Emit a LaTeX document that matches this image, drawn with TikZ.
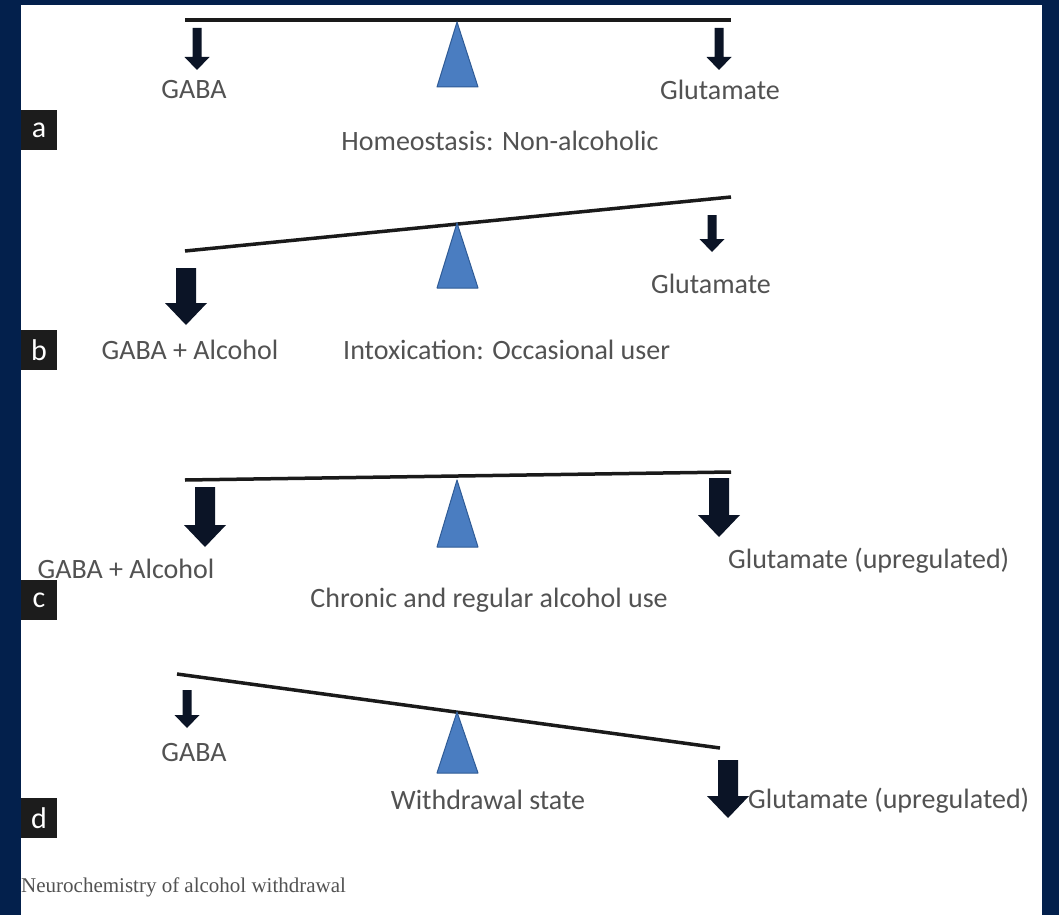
\documentclass[tikz,border=0pt]{standalone}
\usepackage{fontspec}
\setmainfont{Carlito}
\newfontfamily\capfont{Liberation Serif}
\usetikzlibrary{positioning}
\definecolor{navyFrame}{HTML}{03204C}
\definecolor{txtGray}{HTML}{525252}
\definecolor{arrowInk}{HTML}{0B1426}
\definecolor{beamInk}{HTML}{1A1A1A}
\definecolor{fulcrumBlue}{HTML}{4A7DC1}
\definecolor{fulcrumEdge}{HTML}{2F5B96}
\definecolor{tagBlack}{HTML}{1C1C1C}

\begin{document}
\begin{tikzpicture}[x=1pt,y=-1pt,line join=round,
    beam/.style={draw=beamInk,line width=3.5pt},
    fulcrum/.style={fill=fulcrumBlue,draw=fulcrumEdge,line width=1pt},
    lbl/.style={text=txtGray,font=\fontsize{28}{30}\selectfont,inner sep=0pt},
    tag/.style={fill=tagBlack,text=white,font=\fontsize{30}{32}\selectfont,
                minimum width=36pt,minimum height=40pt,inner sep=0pt}]
    \useasboundingbox (0,0) rectangle (1059,915);
    \fill[navyFrame] (0,0) rectangle (1059,915);
    \fill[white] (21,5) rectangle (1042,915);
    % beam end points, one pair per panel
    \coordinate (aL) at (185,20);  \coordinate (aR) at (731,20);
    \coordinate (bL) at (185,251); \coordinate (bR) at (731,197);
    \coordinate (cL) at (185,480); \coordinate (cR) at (731,472);
    \coordinate (dL) at (177,674); \coordinate (dR) at (720,748);
    \foreach \p in {a,b,c,d}
       \draw[beam] (\p L) -- (\p R);
    % fulcrums: apex y / base y
    \foreach \t/\b in {22/87, 223/288, 480/547, 712/773}
       \filldraw[fulcrum] (457,\t) -- (478,\b) -- (437,\b) -- cycle;
    % thin arrows: x / top / tip
    \foreach \x/\t/\b in {197/28/70, 719/28/70, 712/215/252, 187/690/728}
       \fill[arrowInk] (\x-4.5,\t) -- (\x+4.5,\t) -- (\x+4.5,\b-13) -- (\x+12.5,\b-13)
          -- (\x,\b) -- (\x-12.5,\b-13) -- (\x-4.5,\b-13) -- cycle;
    % heavy arrows: x / top / tip
    \foreach \x/\t/\b in {186/268/325, 205/487/547, 719/478/537, 728/760/818}
       \fill[arrowInk] (\x-10,\t) -- (\x+10,\t) -- (\x+10,\b-22) -- (\x+21,\b-22)
          -- (\x,\b) -- (\x-21,\b-22) -- (\x-10,\b-22) -- cycle;
    % panel a
    \node[lbl] (gabaA) at (194,90) {GABA};
    \node[lbl] (gluA) at (720,90) {Glutamate};
    \node[lbl] (stateA) at (500,141) {Homeostasis: Non-alcoholic};
    \node[tag] (tagA) at (39,130) {a};
    % panel b
    \node[lbl] (gabaB) at (190,350) {GABA + Alcohol};
    \node[lbl] (gluB) at (711,284) {Glutamate};
    \node[lbl,anchor=west] (stateB) at (343,350) {Intoxication: Occasional user};
    \node[tag] (tagB) at (39,350) {b};
    % panel c
    \node[lbl] (gabaC) at (126,569) {GABA + Alcohol};
    \node[lbl,anchor=west] (gluC) at (728,561) {Glutamate (upregulated)};
    \node[lbl,anchor=east] (stateC) at (668,600) {Chronic and regular alcohol use};
    \node[tag] (tagC) at (39,600) {c};
    % panel d
    \node[lbl] (gabaD) at (194,753) {GABA};
    \node[lbl,anchor=west] (gluD) at (748,801) {Glutamate (upregulated)};
    \node[lbl] (stateD) at (488,800) {Withdrawal state};
    \node[tag] (tagD) at (39,818) {d};
    \node[anchor=west,inner sep=0pt,text=txtGray,font=\capfont\fontsize{21}{23}\selectfont]
       (caption) at (21,887) {Neurochemistry of alcohol withdrawal};
\end{tikzpicture}
\end{document}
